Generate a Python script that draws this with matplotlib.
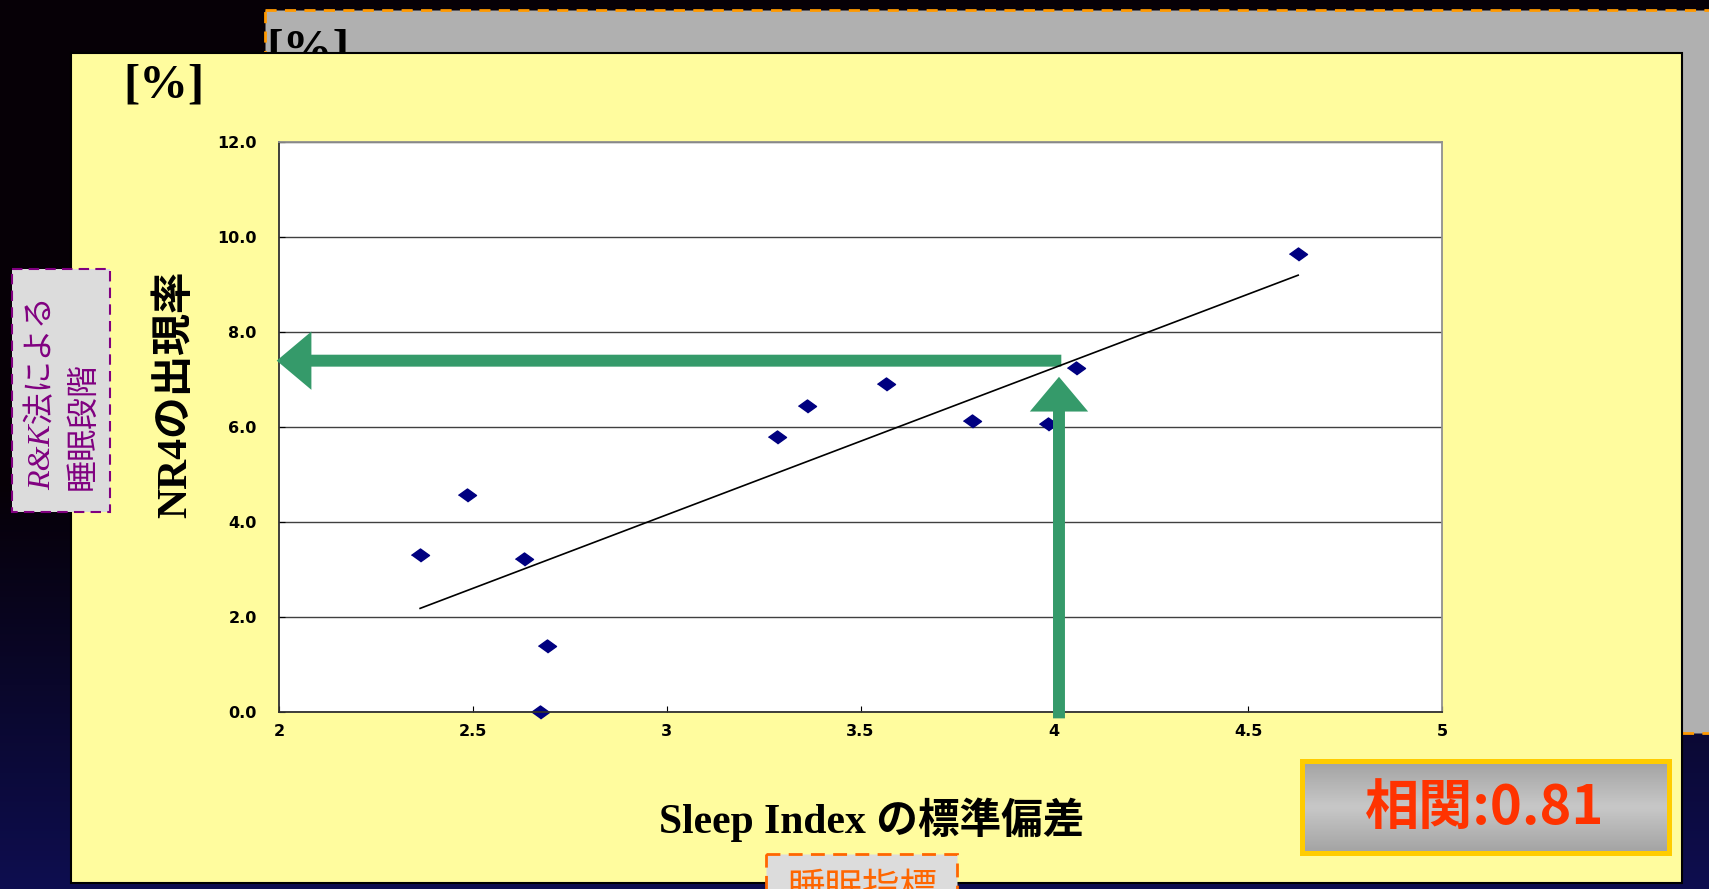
import numpy as np
import matplotlib.pyplot as plt
from matplotlib.patches import Rectangle

# values
sd_sleep_index = [2.364, 2.484, 2.633, 2.673, 2.692, 3.284, 3.361, 3.566, 3.787, 3.984, 4.056, 4.629]
nr4_rate = [3.30, 4.56, 3.21, 0.0, 1.39, 5.79, 6.44, 6.89, 6.11, 6.06, 7.24, 9.63]
x_ticks = [2, 2.5, 3, 3.5, 4, 4.5, 5]
x_tick_labels = ["2", "2.5", "3", "3.5", "4", "4.5", "5"]
y_ticks = [0, 2, 4, 6, 8, 10, 12]
corr_text = "相関:0.81"

W, H = 1709, 889
serif_jp = ["Liberation Serif", "Noto Sans CJK JP"]
green = "#359a6a"

fig = plt.figure(figsize=(W / 100, H / 100), dpi=100)

# slide background, drawn in pixel coordinates
bg = fig.add_axes([0, 0, 1, 1], zorder=0)
bg.axis("off")

t = np.clip((np.arange(H) - 480) / (H - 480), 0, 1)
top = np.array([6, 0, 6]) / 255
bot = np.array([14, 14, 80]) / 255
grad = (top + (bot - top) * t[:, None])[:, None, :]
bg.imshow(grad, extent=(0, W, H, 0), aspect="auto", origin="upper", zorder=0)

# grey panel behind
bg.add_patch(Rectangle((265, 10), 1500, 723, fc="#b0b0b0", ec="#ff9900",
                       ls=(0, (4, 3)), lw=2, zorder=1))
bg.text(266, 52, "[%]", fontsize=36, weight="bold", family="Liberation Serif",
        va="center", zorder=2)

# yellow panel
bg.add_patch(Rectangle((71, 53), 1611, 830, fc="#fffc9e", ec="black", lw=1.5, zorder=3))

bg.text(164, 86, "[%]", fontsize=35, weight="bold", family="Liberation Serif",
        ha="center", va="center", zorder=4)
bg.text(175, 394, "NR4の出現率", rotation=90, fontsize=30, weight="bold", family=serif_jp,
        ha="center", va="center", zorder=4)
bg.text(872, 820, "Sleep Index の標準偏差", fontsize=30, weight="bold", family=serif_jp,
        ha="center", va="center", zorder=4)

# R&K box
bg.add_patch(Rectangle((12, 269), 98, 243, fc="#dcdcdc", ec="#800080",
                       ls=(0, (5, 3)), lw=1.5, zorder=4))
bg.text(43, 490, "R&K法による", rotation=90, fontsize=23, style="italic", family=serif_jp,
        color="#800080", ha="center", va="bottom", zorder=5)
bg.text(83, 490, "睡眠段階", rotation=90, fontsize=23, family=["Noto Sans CJK JP"],
        color="#800080", ha="center", va="bottom", zorder=5)

# sleep index box (runs off the bottom edge, as on the slide)
bg.add_patch(Rectangle((766, 854), 191, 60, fc="#dcdcdc", ec="#ff6600",
                       ls=(0, (5, 3)), lw=2, zorder=4))
bg.text(862, 870, "睡眠指標", fontsize=27, family=["Noto Sans CJK JP"], color="#ff6600",
        ha="center", va="top", zorder=5)

# correlation box
g = np.concatenate([np.linspace(0.64, 0.78, 20), np.linspace(0.78, 0.64, 20)])
box = np.repeat(g[:, None, None], 3, axis=2)
bg.imshow(box, extent=(1302, 1669, 853, 761), aspect="auto", origin="upper", zorder=4)
bg.add_patch(Rectangle((1302, 761), 367, 92, fill=False, ec="#ffcc00", lw=3.6, zorder=5))
bg.text(1485, 808, corr_text, fontsize=39, weight="bold", family=["Noto Sans CJK JP"],
        color="#ff3300", ha="center", va="center", zorder=6)

bg.set_xlim(0, W)
bg.set_ylim(H, 0)

# scatter chart
ax = fig.add_axes([279 / W, 1 - 711.7 / H, 1163 / W, 570 / H], zorder=1)
ax.set_facecolor("white")
ax.set_axisbelow(True)

diamond = [(-1, 0), (0, 0.72), (1, 0), (0, -0.72)]
ax.plot(sd_sleep_index, nr4_rate, linestyle="none", marker=diamond, markersize=13,
        color="#000080", clip_on=False, zorder=2)

slope, icpt = np.polyfit(sd_sleep_index, nr4_rate, 1)
xs = np.array([min(sd_sleep_index), max(sd_sleep_index)])
ax.plot(xs, slope * xs + icpt, color="black", lw=1.2, zorder=4)

arrow_style = "simple,head_length=2.5,head_width=4.2,tail_width=0.86"
ax.annotate("", xy=(1.994, 7.39), xytext=(4.018, 7.39), annotation_clip=False,
            arrowprops=dict(arrowstyle=arrow_style, mutation_scale=10, fc=green, ec="none",
                            shrinkA=0, shrinkB=0), zorder=3)
ax.annotate("", xy=(4.012, 7.05), xytext=(4.012, -0.14), annotation_clip=False,
            arrowprops=dict(arrowstyle=arrow_style, mutation_scale=10, fc=green, ec="none",
                            shrinkA=0, shrinkB=0), zorder=3)

ax.set_xlim(2, 5)
ax.set_ylim(0, 12)
tick_font = dict(fontsize=11.5, fontweight="bold", family="DejaVu Sans")
ax.set_xticks(x_ticks, x_tick_labels, **tick_font)
ax.set_yticks(y_ticks, [f"{v:.1f}" for v in y_ticks], **tick_font)
ax.grid(axis="y", color="#404040", lw=1.0)
ax.tick_params(axis="x", direction="in", length=4, pad=9)
ax.tick_params(axis="y", direction="in", length=4, pad=16)
for side in ["left", "bottom"]:
    ax.spines[side].set_color("#303030")
    ax.spines[side].set_linewidth(1.3)
for side in ["top", "right"]:
    ax.spines[side].set_color("#909090")
    ax.spines[side].set_linewidth(1.3)

fig.savefig("out.png", dpi=100)
